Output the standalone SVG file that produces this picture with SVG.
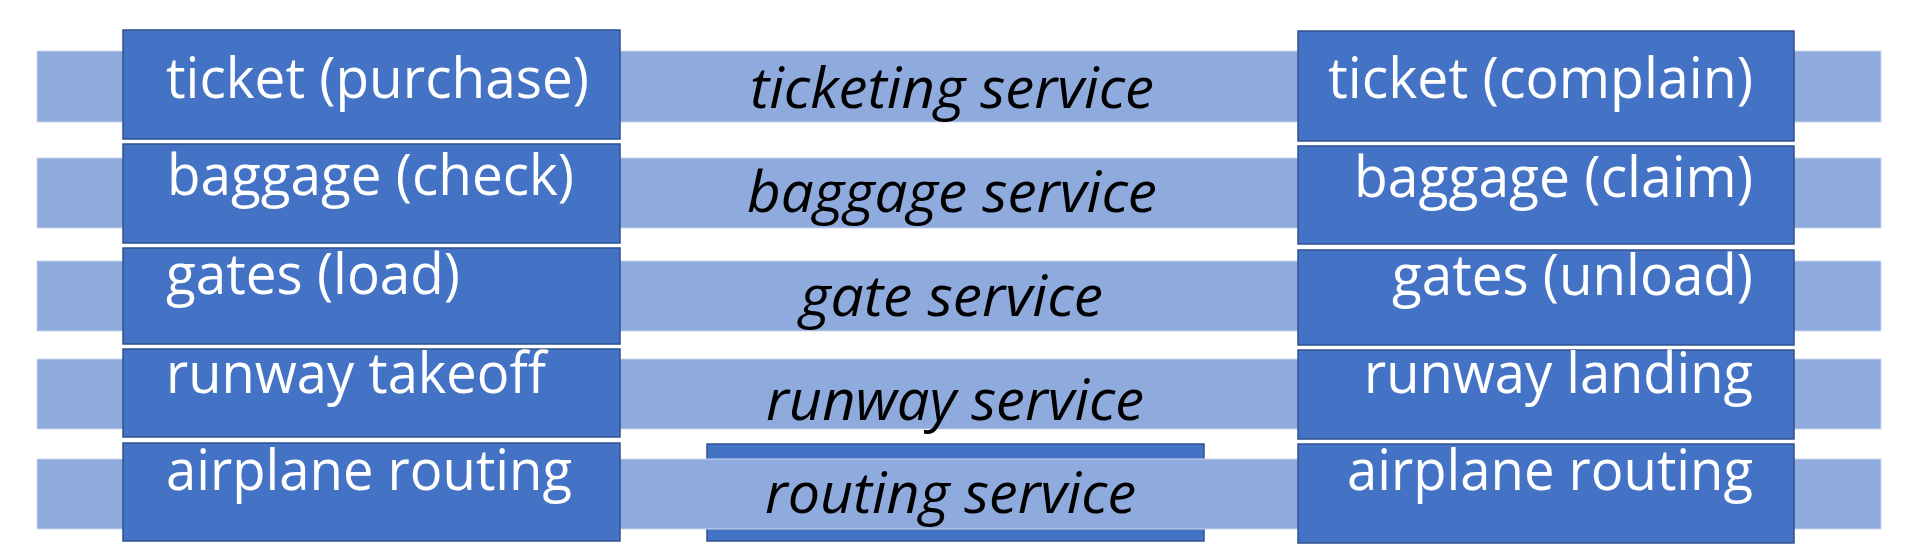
<svg xmlns="http://www.w3.org/2000/svg" width="1915" height="550" viewBox="0 0 1915 550">
<style>
.band{fill:#8FAADC;stroke:#C9D6EE;stroke-width:1}
.box{fill:#4472C4;stroke:#2F528F;stroke-width:1.5}
.lbl{font-family:"Open Sans","Liberation Sans",sans-serif;font-size:57px;fill:#FFFFFF}
.svc{font-family:"Open Sans","Liberation Sans",sans-serif;font-size:57px;font-style:italic;fill:#000000}
</style>
<rect width="1915" height="550" fill="#FFFFFF"/>
<g id="routing-box">
<rect class="box" x="707" y="444" width="497" height="97"/>
</g>
<g id="connectors">
<rect class="band" x="37" y="51" width="1844" height="71"/>
<rect class="band" x="37" y="158" width="1844" height="70"/>
<rect class="band" x="37" y="261" width="1844" height="70"/>
<rect class="band" x="37" y="359" width="1844" height="70"/>
<rect class="band" x="37" y="459" width="1844" height="70"/>
</g>
<g id="left-ticket"><rect class="box" x="123" y="30" width="497" height="109"/><text class="lbl" x="166" y="98" textLength="423" lengthAdjust="spacingAndGlyphs">ticket (purchase)</text></g>
<g id="left-baggage"><rect class="box" x="123" y="144" width="497" height="99"/><text class="lbl" x="167" y="195" textLength="407" lengthAdjust="spacingAndGlyphs">baggage (check)</text></g>
<g id="left-gates"><rect class="box" x="123" y="248" width="497" height="96"/><text class="lbl" x="166" y="294" textLength="294" lengthAdjust="spacingAndGlyphs">gates (load)</text></g>
<g id="left-runway"><rect class="box" x="123" y="349" width="497" height="88"/><text class="lbl" x="166" y="393" textLength="380" lengthAdjust="spacingAndGlyphs">runway takeoff</text></g>
<g id="left-routing"><rect class="box" x="123" y="443" width="497" height="98"/><text class="lbl" x="166" y="490" textLength="406" lengthAdjust="spacingAndGlyphs">airplane routing</text></g>
<g id="right-ticket"><rect class="box" x="1298" y="31" width="496" height="110"/><text class="lbl" x="1328" y="98" textLength="425" lengthAdjust="spacingAndGlyphs">ticket (complain)</text></g>
<g id="right-baggage"><rect class="box" x="1298" y="146" width="496" height="98"/><text class="lbl" x="1354" y="197" textLength="399" lengthAdjust="spacingAndGlyphs">baggage (claim)</text></g>
<g id="right-gates"><rect class="box" x="1298" y="250" width="496" height="95"/><text class="lbl" x="1392" y="295" textLength="361" lengthAdjust="spacingAndGlyphs">gates (unload)</text></g>
<g id="right-runway"><rect class="box" x="1298" y="350" width="496" height="89"/><text class="lbl" x="1364" y="393" textLength="389" lengthAdjust="spacingAndGlyphs">runway landing</text></g>
<g id="right-routing"><rect class="box" x="1298" y="444" width="496" height="99"/><text class="lbl" x="1347" y="490" textLength="406" lengthAdjust="spacingAndGlyphs">airplane routing</text></g>
<g id="services">
<text class="svc" x="750" y="108" textLength="404" lengthAdjust="spacingAndGlyphs">ticketing service</text>
<text class="svc" x="747" y="212" textLength="410" lengthAdjust="spacingAndGlyphs">baggage service</text>
<text class="svc" x="800" y="316" textLength="303" lengthAdjust="spacingAndGlyphs">gate service</text>
<text class="svc" x="766" y="420" textLength="378" lengthAdjust="spacingAndGlyphs">runway service</text>
<text class="svc" x="765" y="513" textLength="371" lengthAdjust="spacingAndGlyphs">routing service</text>
</g>
</svg>
